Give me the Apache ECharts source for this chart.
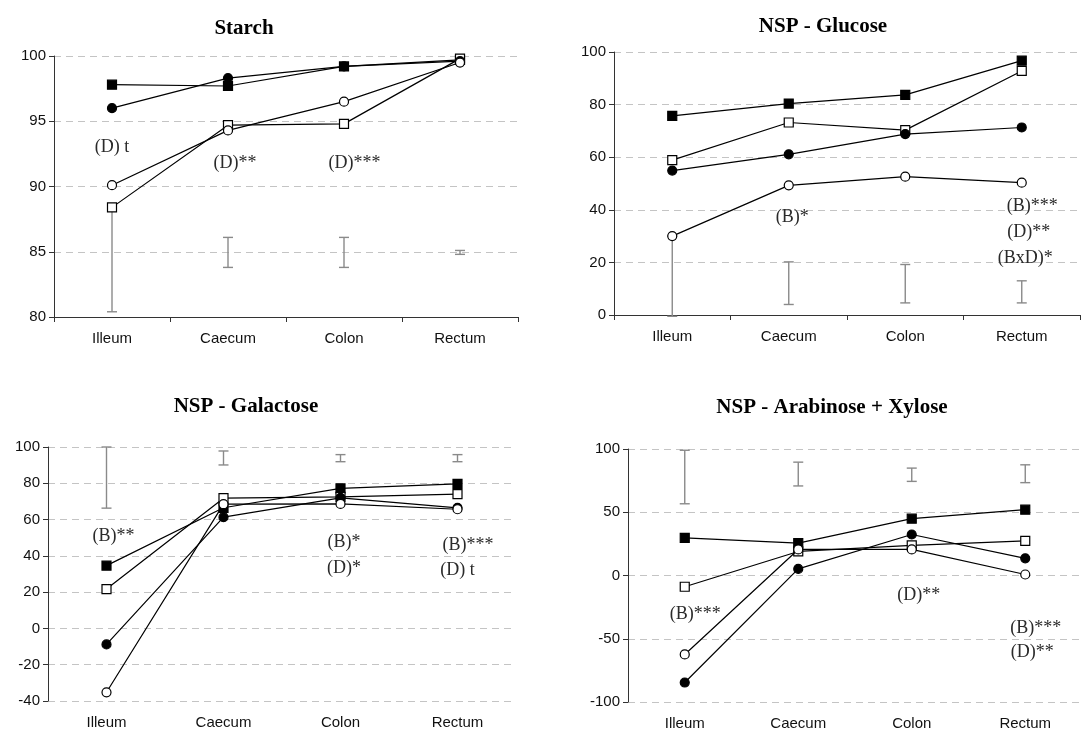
<!DOCTYPE html>
<html>
<head>
<meta charset="utf-8">
<title>Digestibility along the intestinal tract</title>
<script src="https://cdn.jsdelivr.net/npm/echarts@6/dist/echarts.min.js"></script>
<style>
  html, body { margin: 0; padding: 0; background: #fff; }
  #chart { width: 1082px; height: 731px; }
</style>
</head>
<body>
<div id="chart"></div>
<script>
// Intestinal sites (x categories)
const categories = ['Illeum', 'Caecum', 'Colon', 'Rectum'];

// Starch
const starchFilledSquare = [97.8, 97.7, 99.2, 99.7];
const starchOpenSquare   = [88.4, 94.7, 94.8, 99.8];
const starchFilledCircle = [96.0, 98.3, 99.2, 99.6];
const starchOpenCircle   = [90.1, 94.3, 96.5, 99.5];
const starchErrLow  = [80.4, 83.8, 83.8, 84.8];
const starchErrHigh = [88.4, 86.1, 86.1, 85.1];
const starchTicks = [80, 85, 90, 95, 100];
const starchNoteSite = [0, 1, 2];
const starchNoteY    = [93.0, 91.8, 91.8];
const starchNoteText = ['(D) t', '(D)**', '(D)***'];

// NSP - Glucose
const glucoseFilledSquare = [75.7, 80.4, 83.7, 96.7];
const glucoseOpenSquare   = [58.9, 73.2, 70.3, 92.8];
const glucoseFilledCircle = [54.9, 61.1, 68.8, 71.3];
const glucoseOpenCircle   = [30.0, 49.3, 52.6, 50.3];
const glucoseErrLow  = [-0.5, 4.0, 4.6, 4.6];
const glucoseErrHigh = [30.0, 20.2, 19.2, 13.0];
const glucoseTicks = [0, 20, 40, 60, 80, 100];
const glucoseNoteSite = [1, 3, 3, 3];
const glucoseNoteY    = [37.0, 41.2, 31.5, 21.6];
const glucoseNoteText = ['(B)*', '(B)***', '(D)**', '(BxD)*'];

// NSP - Galactose
const galactoseFilledSquare = [34.6, 66.5, 77.2, 79.7];
const galactoseOpenSquare   = [21.7, 71.8, 72.5, 74.0];
const galactoseFilledCircle = [-8.8, 61.3, 72.0, 66.5];
const galactoseOpenCircle   = [-35.2, 68.5, 68.6, 65.7];
const galactoseErrLow  = [66.3, 90.1, 91.9, 91.9];
const galactoseErrHigh = [100.0, 97.8, 95.8, 95.8];
const galactoseTicks = [-40, -20, 0, 20, 40, 60, 80, 100];
const galactoseNoteSite = [0, 2, 2, 3, 3];
const galactoseNoteY    = [50.6, 47.3, 33.1, 46.0, 31.8];
const galactoseNoteText = ['(B)**', '(B)*', '(D)*', '(B)***', '(D) t'];

// NSP - Arabinose + Xylose
const arabxylFilledSquare = [29.8, 25.6, 44.9, 52.0];
const arabxylOpenSquare   = [-8.9, 19.0, 23.8, 27.4];
const arabxylFilledCircle = [-84.6, 5.2, 32.4, 13.6];
const arabxylOpenCircle   = [-62.4, 20.6, 20.6, 0.8];
const arabxylErrLow  = [56.7, 70.8, 74.4, 73.4];
const arabxylErrHigh = [99.0, 89.6, 84.9, 87.5];
const arabxylTicks = [-100, -50, 0, 50, 100];
const arabxylNoteSite = [0, 2, 3, 3];
const arabxylNoteY    = [-30.3, -15.9, -42.0, -60.8];
const arabxylNoteText = ['(B)***', '(D)**', '(B)***', '(D)**'];

const SANS = '"Liberation Sans", Arial, sans-serif';
const SERIF = '"Liberation Serif", "Times New Roman", serif';

const panels = [
  {
    title: 'Starch', titleX: 244, titleY: 29,
    grid: { left: 54, top: 56, width: 464, height: 261 },
    ticks: starchTicks, showXAxis: true,
    lines: [starchFilledSquare, starchOpenSquare, starchFilledCircle, starchOpenCircle],
    errLow: starchErrLow, errHigh: starchErrHigh,
    noteSite: starchNoteSite, noteY: starchNoteY, noteText: starchNoteText
  },
  {
    title: 'NSP - Glucose', titleX: 823, titleY: 27,
    grid: { left: 614, top: 52, width: 466, height: 263 },
    ticks: glucoseTicks, showXAxis: true,
    lines: [glucoseFilledSquare, glucoseOpenSquare, glucoseFilledCircle, glucoseOpenCircle],
    errLow: glucoseErrLow, errHigh: glucoseErrHigh,
    noteSite: glucoseNoteSite, noteY: glucoseNoteY, noteText: glucoseNoteText
  },
  {
    title: 'NSP - Galactose', titleX: 246, titleY: 407,
    grid: { left: 48, top: 447, width: 468, height: 254 },
    ticks: galactoseTicks, showXAxis: false,
    lines: [galactoseFilledSquare, galactoseOpenSquare, galactoseFilledCircle, galactoseOpenCircle],
    errLow: galactoseErrLow, errHigh: galactoseErrHigh,
    noteSite: galactoseNoteSite, noteY: galactoseNoteY, noteText: galactoseNoteText
  },
  {
    title: 'NSP - Arabinose + Xylose', titleX: 832, titleY: 408,
    grid: { left: 628, top: 449, width: 466, height: 255 },
    ticks: arabxylTicks, showXAxis: false,
    lines: [arabxylFilledSquare, arabxylOpenSquare, arabxylFilledCircle, arabxylOpenCircle],
    errLow: arabxylErrLow, errHigh: arabxylErrHigh,
    noteSite: arabxylNoteSite, noteY: arabxylNoteY, noteText: arabxylNoteText
  }
];

// Marker look per treatment: filled/open squares and circles
const markerStyles = [
  { symbol: 'rect',   fill: '#000000' },
  { symbol: 'rect',   fill: '#ffffff' },
  { symbol: 'circle', fill: '#000000' },
  { symbol: 'circle', fill: '#ffffff' }
];

const grids = [], xAxes = [], yAxes = [], series = [], graphics = [];

panels.forEach((p, i) => {
  grids.push(Object.assign({ containLabel: false }, p.grid));

  xAxes.push({
    type: 'category', gridIndex: i, data: categories, boundaryGap: true,
    axisLine: { show: p.showXAxis, lineStyle: { color: '#333', width: 1 } },
    axisTick: { show: p.showXAxis, length: 5, lineStyle: { color: '#333' } },
    axisLabel: { color: '#111', fontFamily: SANS, fontSize: 15, margin: 14 },
    splitLine: { show: false }
  });

  const tk = p.ticks;
  yAxes.push({
    type: 'value', gridIndex: i,
    min: tk[0], max: tk[tk.length - 1], interval: tk[1] - tk[0],
    axisLine: { show: true, lineStyle: { color: '#333', width: 1 } },
    axisTick: { show: true, length: 5, lineStyle: { color: '#333' } },
    axisLabel: { color: '#111', fontFamily: SANS, fontSize: 15, margin: 8 },
    splitLine: { show: true, lineStyle: { color: '#c4c4c4', width: 1, type: [7, 5] } }
  });

  // Error bars (grey I-beams) behind the lines
  series.push({
    type: 'custom', xAxisIndex: i, yAxisIndex: i, z: 1, silent: true,
    encode: { x: 0, y: [1, 2] },
    data: categories.map((c, k) => [k, p.errLow[k], p.errHigh[k]]),
    renderItem: (params, api) => {
      const lo = api.coord([api.value(0), api.value(1)]);
      const hi = api.coord([api.value(0), api.value(2)]);
      const w = 5;
      const st = { stroke: '#8a8a8a', lineWidth: 1.4 };
      return {
        type: 'group',
        children: [
          { type: 'line', shape: { x1: lo[0], y1: lo[1], x2: hi[0], y2: hi[1] }, style: st },
          { type: 'line', shape: { x1: lo[0] - w, y1: lo[1], x2: lo[0] + w, y2: lo[1] }, style: st },
          { type: 'line', shape: { x1: hi[0] - w, y1: hi[1], x2: hi[0] + w, y2: hi[1] }, style: st }
        ]
      };
    }
  });

  // Treatment lines
  p.lines.forEach((vals, s) => {
    const m = markerStyles[s];
    series.push({
      type: 'line', xAxisIndex: i, yAxisIndex: i, z: 3 + s,
      data: vals,
      symbol: m.symbol, symbolSize: 9, showSymbol: true,
      lineStyle: { color: '#000', width: 1.2 },
      itemStyle: { color: m.fill, borderColor: '#000', borderWidth: 1.2 },
      emphasis: { disabled: true }, silent: true, animation: false
    });
  });

  // Significance notes
  series.push({
    type: 'custom', xAxisIndex: i, yAxisIndex: i, z: 10, silent: true,
    encode: { x: 0, y: 1 },
    data: p.noteSite.map((c, k) => [c, p.noteY[k]]),
    renderItem: (params, api) => {
      const pt = api.coord([api.value(0), api.value(1)]);
      const txt = p.noteText[params.dataIndex];
      const stars = (txt.match(/\*/g) || []).length;
      return {
        type: 'text',
        style: {
          text: txt, x: pt[0] + stars * 3.5, y: pt[1],
          align: 'center', verticalAlign: 'middle',
          textAlign: 'center', textVerticalAlign: 'middle',
          font: '18px ' + SERIF, fill: '#2a2a2a'
        }
      };
    }
  });

  // Panel title
  graphics.push({
    type: 'text', x: p.titleX, y: p.titleY,
    style: {
      text: p.title, font: 'bold 21px ' + SERIF, fill: '#000',
      align: 'center', verticalAlign: 'middle',
      textAlign: 'center', textVerticalAlign: 'middle'
    }
  });
});

const chart = echarts.init(document.getElementById('chart'), null, { renderer: 'canvas' });
chart.setOption({
  backgroundColor: '#ffffff',
  animation: false,
  grid: grids,
  xAxis: xAxes,
  yAxis: yAxes,
  series: series,
  graphic: graphics
});
</script>
</body>
</html>
